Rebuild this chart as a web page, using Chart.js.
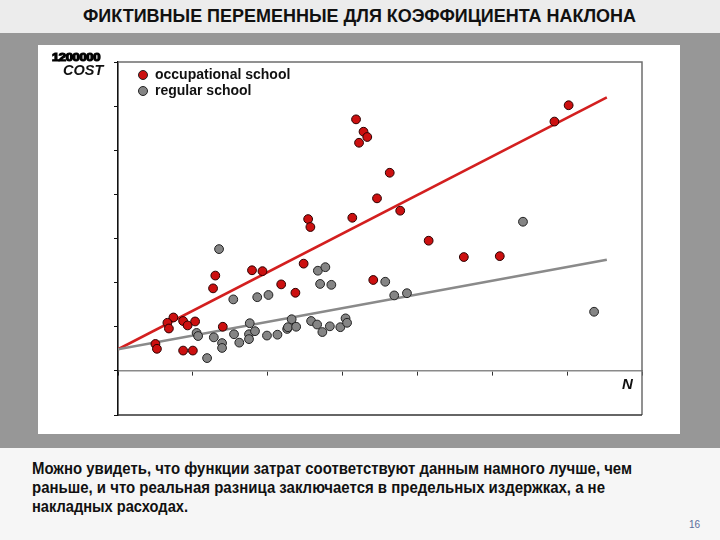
<!DOCTYPE html>
<html>
<head>
<meta charset="utf-8">
<script src="https://cdn.jsdelivr.net/npm/chart.js@4.4.1/dist/chart.umd.min.js"></script>
<style>
  html, body { margin: 0; padding: 0; }
  body { width: 720px; height: 540px; position: relative; overflow: hidden; background: #f6f6f6; font-family: "Liberation Sans", Arial, sans-serif; }
  #titlebar { position: absolute; left: 0; top: 0; width: 720px; height: 33px; background: #ececec; }
  #band { position: absolute; left: 0; top: 33px; width: 720px; height: 415px; background: #979797; }
  #panel { position: absolute; left: 38px; top: 45px; width: 642px; height: 389px; background: #ffffff; }
  #chartbox { position: absolute; left: 38px; top: 45px; width: 642px; height: 389px; }
  .fit { position: absolute; white-space: nowrap; display: inline-block; transform-origin: 0 50%; }
  #title { left: 83px; top: 5px; font-size: 19px; font-weight: bold; color: #111; }
  .body { left: 32px; font-size: 16px; font-weight: bold; color: #111; }
  #l1 { top: 460px; } #l2 { top: 479px; } #l3 { top: 498px; }
  #pnum { position: absolute; left: 689px; top: 519px; font-size: 10px; color: #5a6d9c; }
  .leg { position: absolute; font-size: 14px; font-weight: bold; color: #111; white-space: nowrap; }
  .dot { position: absolute; width: 8px; height: 8px; border-radius: 50%; border: 1px solid #222; }
  #cost { position: absolute; left: 63px; top: 62px; font-size: 14.5px; font-weight: bold; font-style: italic; color: #111; }
  #garble { left: 52px; top: 52px; font-size: 10px; font-weight: bold; color: #000; -webkit-text-stroke: 1.1px #000; letter-spacing: -0.3px; }
  #nlab { position: absolute; left: 622px; top: 375px; font-size: 15px; font-weight: bold; font-style: italic; color: #111; }
</style>
</head>
<body>
<div id="titlebar"></div>
<div id="band"></div>
<div id="panel"></div>
<div id="chartbox"><canvas id="c"></canvas></div>

<span class="fit" id="title" data-w="553">ФИКТИВНЫЕ ПЕРЕМЕННЫЕ ДЛЯ КОЭФФИЦИЕНТА НАКЛОНА</span>
<span class="fit" id="garble" data-w="48">1200000</span>
<div id="cost">COST</div>
<div id="nlab">N</div>

<div class="dot" style="left:138px;top:70px;background:#cc1010;"></div>
<div class="leg" style="left:155px;top:66px;">occupational school</div>
<div class="dot" style="left:138px;top:86px;background:#858585;"></div>
<div class="leg" style="left:155px;top:82px;">regular school</div>

<span class="fit body" id="l1" data-w="600">Можно увидеть, что функции затрат соответствуют данным намного лучше, чем</span>
<span class="fit body" id="l2" data-w="573">раньше, и что реальная разница заключается в предельных издержках, а не</span>
<span class="fit body" id="l3" data-w="156">накладных расходах.</span>
<div id="pnum">16</div>

<script>
// ---- data ----
const occupationalX = [3.18, 3.28, 3.33, 3.22, 3.63, 3.46, 3.77, 3.13, 2.54, 2.57, 2.48, 1.79, 1.93, 1.30, 1.27, 2.18, 2.37, 3.41, 0.74, 0.66, 0.68, 0.87, 0.93, 1.03, 1.40, 0.50, 0.52, 0.87, 1.00, 6.02, 5.83, 4.15, 4.62, 5.10];
const occupationalY = [5.70, 5.42, 5.30, 5.17, 4.49, 3.91, 3.63, 3.47, 3.44, 3.26, 2.43, 2.28, 2.26, 2.16, 1.87, 1.96, 1.77, 2.06, 1.21, 1.09, 0.96, 1.13, 1.03, 1.12, 1.00, 0.61, 0.50, 0.46, 0.46, 6.02, 5.65, 2.95, 2.58, 2.60];

const regularX = [1.35, 1.54, 1.86, 2.01, 2.67, 2.77, 2.70, 2.85, 3.57, 3.69, 3.86, 5.41, 6.36, 1.05, 1.07, 1.28, 1.39, 1.39, 1.19, 1.55, 1.62, 1.76, 1.75, 1.75, 1.83, 1.99, 2.13, 2.26, 2.27, 2.32, 2.38, 2.58, 2.66, 2.73, 2.83, 2.97, 3.04, 3.06];
const regularY = [2.76, 1.62, 1.67, 1.72, 2.27, 2.35, 1.97, 1.95, 2.02, 1.71, 1.76, 3.38, 1.34, 0.86, 0.79, 0.76, 0.63, 0.52, 0.29, 0.83, 0.64, 1.08, 0.83, 0.72, 0.90, 0.80, 0.82, 0.95, 0.99, 1.17, 1.00, 1.13, 1.05, 0.88, 1.01, 0.99, 1.19, 1.09];

const occupationalLineX = [0, 6.53];
const occupationalLineY = [0.49, 6.20];
const regularLineX = [0, 6.53];
const regularLineY = [0.49, 2.52];

const xTicks = [0, 1, 2, 3, 4, 5, 6, 7];
const yTicks = [-1, 0, 1, 2, 3, 4, 5, 6, 7];

const pts = (xs, ys) => xs.map((x, i) => ({ x: x, y: ys[i] }));

// frame around the plot area (top, right, bottom)
const framePlugin = {
  id: 'frame',
  beforeDatasetsDraw(chart) {
    const a = chart.chartArea, ctx = chart.ctx;
    ctx.save();
    ctx.lineWidth = 1.5;
    ctx.strokeStyle = '#6e6e6e';
    ctx.beginPath();
    ctx.moveTo(a.left, a.top); ctx.lineTo(a.right, a.top); ctx.lineTo(a.right, a.bottom);
    ctx.stroke();
    ctx.strokeStyle = '#333333';
    ctx.beginPath();
    ctx.moveTo(a.left, a.bottom); ctx.lineTo(a.right, a.bottom);
    ctx.stroke();
    ctx.restore();
  }
};

new Chart(document.getElementById('c'), {
  type: 'scatter',
  data: {
    datasets: [
      { label: 'occupational school', data: pts(occupationalX, occupationalY), backgroundColor: '#cc1010', borderColor: '#2a0000', borderWidth: 1, pointRadius: 4.4, order: 1 },
      { label: 'regular school', data: pts(regularX, regularY), backgroundColor: '#858585', borderColor: '#222222', borderWidth: 1, pointRadius: 4.4, order: 1 },
      { label: 'occ fit', data: pts(occupationalLineX, occupationalLineY), showLine: true, borderColor: '#d31f1f', borderWidth: 2.6, pointRadius: 0, order: 3 },
      { label: 'reg fit', data: pts(regularLineX, regularLineY), showLine: true, borderColor: '#8a8a8a', borderWidth: 2.6, pointRadius: 0, order: 2 }
    ]
  },
  options: {
    responsive: true,
    maintainAspectRatio: false,
    animation: false,
    events: [],
    layout: { padding: { left: 80, top: 17, right: 38, bottom: 19 } },
    plugins: { legend: { display: false }, tooltip: { enabled: false } },
    scales: {
      x: {
        type: 'linear', min: 0, max: 7,
        position: { y: 0 },
        afterFit(s) { s.height = 0; },
        afterBuildTicks(s) { s.ticks = xTicks.map(v => ({ value: v })); },
        ticks: { display: false },
        grid: { drawOnChartArea: false, drawTicks: true, tickLength: 4, color: '#333', lineWidth: 1 },
        border: { display: true, color: '#8a8a8a', width: 1.6 }
      },
      y: {
        type: 'linear', min: -1, max: 7,
        position: 'left',
        afterFit(s) { s.width = 0; },
        afterBuildTicks(s) { s.ticks = yTicks.map(v => ({ value: v })); },
        ticks: { display: false },
        grid: { drawOnChartArea: false, drawTicks: true, tickLength: 4, color: '#111', lineWidth: 1 },
        border: { display: true, color: '#111', width: 1.6 }
      }
    }
  },
  plugins: [framePlugin]
});

// fit text spans to their measured widths in the reference
document.querySelectorAll('.fit').forEach(el => {
  const target = parseFloat(el.dataset.w);
  const w = el.getBoundingClientRect().width;
  if (w > 0) el.style.transform = 'scaleX(' + (target / w) + ')';
});
</script>
</body>
</html>
